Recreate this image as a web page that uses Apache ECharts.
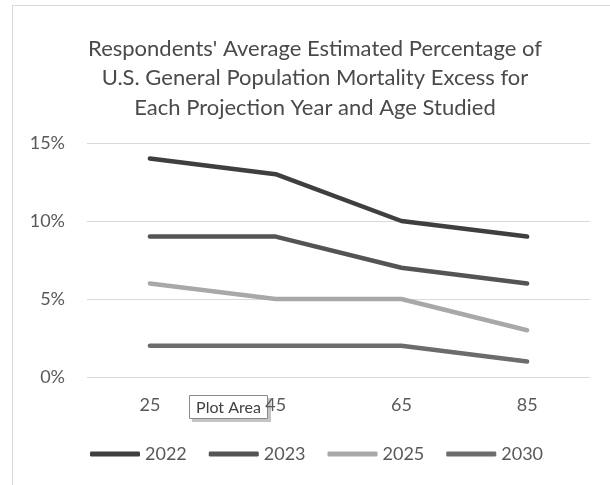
<!DOCTYPE html>
<html>
<head>
<meta charset="utf-8">
<script src="https://cdn.jsdelivr.net/npm/echarts@6/dist/echarts.min.js"></script>
<style>html,body{margin:0;padding:0;background:#fff;}#c{width:610px;height:485px;}</style>
</head>
<body>
<div id="c"></div>
<script>
var categories = ['25', '45', '65', '85'];
var seriesNames = ['2022', '2023', '2025', '2030'];
var values2022 = [0.14, 0.13, 0.10, 0.09];
var values2023 = [0.09, 0.09, 0.07, 0.06];
var values2025 = [0.06, 0.05, 0.05, 0.03];
var values2030 = [0.02, 0.02, 0.02, 0.01];
var yTicks = [0, 0.05, 0.10, 0.15];

var colors = ['#3f3f3f', '#545454', '#a8a8a8', '#6c6c6c'];
var allValues = [values2022, values2023, values2025, values2030];
var font = 'Lato, "Open Sans", sans-serif';

var chart = echarts.init(document.getElementById('c'), null, {renderer: 'canvas'});
var series = seriesNames.map(function (n, i) {
  return {
    name: n, type: 'line', data: allValues[i], symbol: 'none', showSymbol: false,
    lineStyle: {width: 4.5, color: colors[i], cap: 'round', join: 'round'},
    itemStyle: {color: colors[i]}, smooth: false, animation: false, z: 10 - i
  };
});
chart.setOption({
  backgroundColor: '#ffffff',
  animation: false,
  color: colors,
  grid: {left: 87, right: 20, top: 143, bottom: 108, containLabel: false},
  xAxis: {
    type: 'category', data: categories, boundaryGap: true,
    axisLine: {show: false}, axisTick: {show: false},
    axisLabel: {color: '#595959', fontSize: 18, fontFamily: font, margin: 19}
  },
  yAxis: {
    type: 'value', min: yTicks[0], max: yTicks[yTicks.length - 1], interval: 0.05,
    axisLine: {show: false}, axisTick: {show: false},
    splitLine: {lineStyle: {color: '#d9d9d9', width: 1}},
    axisLabel: {color: '#595959', fontSize: 18, fontFamily: font, margin: 22,
      formatter: function (v) { return Math.round(v * 100) + '%'; }}
  },
  legend: {
    data: seriesNames.map(function (n) { return {name: n, icon: 'roundRect'}; }),
    left: 85, top: 440, itemWidth: 50, itemHeight: 5, itemGap: 22,
    textStyle: {color: '#595959', fontSize: 18, fontFamily: font}
  },
  graphic: [
    {type: 'line', shape: {x1: 12.5, y1: 5, x2: 12.5, y2: 485}, style: {stroke: '#d9d9d9', lineWidth: 1}},
    {type: 'line', shape: {x1: 12, y1: 5.5, x2: 610, y2: 5.5}, style: {stroke: '#d9d9d9', lineWidth: 1}},
    {type: 'text', x: 315, y: 34,
      style: {text: "Respondents' Average Estimated Percentage of\nU.S. General Population Mortality Excess for\nEach Projection Year and Age Studied",
        fill: '#4a4a4a', font: '22px ' + font, textAlign: 'center', lineHeight: 29.5}},
    {type: 'group', x: 189, y: 395, z: 100, children: [
      {type: 'rect', shape: {x: 3, y: 3, width: 79, height: 24}, style: {fill: '#c4c4c4'}},
      {type: 'rect', shape: {x: 0.5, y: 0.5, width: 78, height: 23}, style: {fill: '#ffffff', stroke: '#8a8a8a', lineWidth: 1}},
      {type: 'text', x: 39.5, y: 12.5, style: {text: 'Plot Area', fill: '#404040', font: '16px ' + font, textAlign: 'center', textVerticalAlign: 'middle'}}
    ]}
  ],
  series: series
});
</script>
</body>
</html>
